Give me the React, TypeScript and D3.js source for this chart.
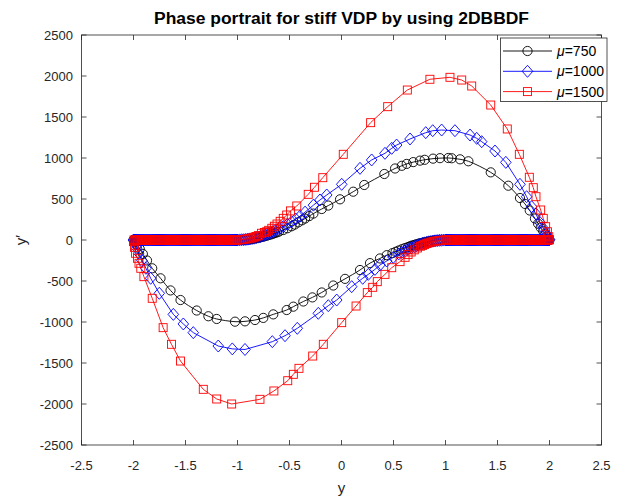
import React from 'react';
import * as d3 from 'd3';

const xTicks = [-2.5, -2, -1.5, -1, -0.5, 0, 0.5, 1, 1.5, 2, 2.5];
const yTicks = [-2500, -2000, -1500, -1000, -500, 0, 500, 1000, 1500, 2000, 2500];

// slow-manifold markers (y' ~ 0), very dense in the reference
const bandRightX = [1.995, 1.985, 1.975, 1.965, 1.955, 1.945, 1.935, 1.925, 1.915, 1.905, 1.895, 1.885, 1.875, 1.865, 1.855, 1.845, 1.835, 1.825, 1.815, 1.805, 1.795, 1.785, 1.775, 1.765, 1.755, 1.745, 1.735, 1.725, 1.715, 1.705, 1.695, 1.685, 1.675, 1.665, 1.655, 1.645, 1.635, 1.625, 1.615, 1.605, 1.595, 1.585, 1.575, 1.565, 1.555, 1.545, 1.535, 1.525, 1.515, 1.505, 1.495, 1.485, 1.475, 1.465, 1.455, 1.445, 1.435, 1.425, 1.415, 1.405, 1.395, 1.385, 1.375, 1.365, 1.355, 1.345, 1.335, 1.325, 1.315, 1.305, 1.295, 1.285, 1.275, 1.265, 1.255, 1.245, 1.235, 1.225, 1.215, 1.205, 1.195, 1.185, 1.175, 1.165, 1.155, 1.145, 1.135, 1.125, 1.115, 1.105, 1.095, 1.085, 1.075, 1.065, 1.055, 1.045, 1.035, 1.025, 1.015, 1.005];
const bandLeftX = [-1.995, -1.985, -1.975, -1.965, -1.955, -1.945, -1.935, -1.925, -1.915, -1.905, -1.895, -1.885, -1.875, -1.865, -1.855, -1.845, -1.835, -1.825, -1.815, -1.805, -1.795, -1.785, -1.775, -1.765, -1.755, -1.745, -1.735, -1.725, -1.715, -1.705, -1.695, -1.685, -1.675, -1.665, -1.655, -1.645, -1.635, -1.625, -1.615, -1.605, -1.595, -1.585, -1.575, -1.565, -1.555, -1.545, -1.535, -1.525, -1.515, -1.505, -1.495, -1.485, -1.475, -1.465, -1.455, -1.445, -1.435, -1.425, -1.415, -1.405, -1.395, -1.385, -1.375, -1.365, -1.355, -1.345, -1.335, -1.325, -1.315, -1.305, -1.295, -1.285, -1.275, -1.265, -1.255, -1.245, -1.235, -1.225, -1.215, -1.205, -1.195, -1.185, -1.175, -1.165, -1.155, -1.145, -1.135, -1.125, -1.115, -1.105, -1.095, -1.085, -1.075, -1.065, -1.055, -1.045, -1.035, -1.025, -1.015, -1.005];

// mu = 750
const upper750: [number, number][] = [[-1.0, 0], [-0.98, 0.5], [-0.96, 2], [-0.94, 3], [-0.92, 5], [-0.9, 7], [-0.88, 10], [-0.86, 13], [-0.84, 17], [-0.82, 22], [-0.8, 27], [-0.78, 32], [-0.76, 38], [-0.74, 45], [-0.72, 52], [-0.7, 60], [-0.68, 67], [-0.66, 76], [-0.64, 84], [-0.62, 94], [-0.6, 103], [-0.56, 122], [-0.52, 143], [-0.48, 167], [-0.45, 188], [-0.415, 215], [-0.38, 240], [-0.35, 262], [-0.31, 292], [-0.27, 322], [-0.19, 378], [-0.127, 420], [-0.014, 496], [0.113, 589], [0.219, 671], [0.412, 805], [0.515, 872], [0.58, 905], [0.627, 928], [0.69, 950], [0.755, 968], [0.8, 978], [0.88, 992], [0.947, 998], [1.027, 1000], [1.06, 997], [1.14, 984], [1.22, 960], [1.435, 825], [1.604, 662], [1.716, 512], [1.764, 440], [1.81, 360], [1.86, 262], [1.89, 200], [1.915, 152], [1.94, 108], [1.96, 70], [1.975, 42], [1.99, 16], [2.0, 2]];
const lower750: [number, number][] = [[1.0, 0], [0.98, -0.5], [0.96, -2], [0.94, -3], [0.92, -5], [0.9, -7], [0.88, -10], [0.86, -13], [0.84, -17], [0.82, -22], [0.8, -27], [0.78, -32], [0.76, -38], [0.74, -45], [0.72, -52], [0.7, -60], [0.68, -67], [0.66, -76], [0.64, -85], [0.61, -98], [0.58, -112], [0.55, -128], [0.52, -144], [0.49, -160], [0.435, -185], [0.37, -225], [0.274, -282], [0.178, -366], [0.034, -474], [-0.079, -555], [-0.19, -640], [-0.28, -700], [-0.367, -750], [-0.463, -813], [-0.527, -854], [-0.656, -907], [-0.752, -950], [-0.832, -976], [-0.928, -992], [-1.024, -996], [-1.2, -963], [-1.28, -930], [-1.392, -860], [-1.548, -732], [-1.644, -615], [-1.74, -467], [-1.82, -345], [-1.87, -250], [-1.91, -170], [-1.94, -110], [-1.965, -60], [-1.985, -25], [-2.0, 0]];

// mu = 1000
const upper1000: [number, number][] = [[-1.0, 0], [-0.98, 1], [-0.96, 3], [-0.94, 4], [-0.92, 7], [-0.9, 10], [-0.88, 13], [-0.86, 18], [-0.84, 22], [-0.82, 29], [-0.8, 35], [-0.78, 43], [-0.76, 51], [-0.74, 60], [-0.72, 70], [-0.7, 80], [-0.68, 90], [-0.66, 101], [-0.64, 113], [-0.6, 138], [-0.56, 163], [-0.52, 190], [-0.48, 222], [-0.44, 255], [-0.4, 290], [-0.35, 340], [-0.27, 425], [-0.207, 488], [-0.142, 549], [0.002, 679], [0.178, 874], [0.29, 976], [0.418, 1057], [0.483, 1118], [0.53, 1158], [0.659, 1232], [0.81, 1309], [0.877, 1333], [0.963, 1341], [1.091, 1333], [1.236, 1280], [1.3, 1240], [1.348, 1199], [1.476, 1085], [1.58, 947], [1.716, 679], [1.78, 528], [1.828, 406], [1.87, 317], [1.909, 211], [1.94, 143], [1.966, 82], [1.985, 40], [2.0, 5]];
const lower1000: [number, number][] = [[1.0, 0], [0.98, -1], [0.96, -3], [0.94, -4], [0.92, -7], [0.9, -10], [0.88, -13], [0.86, -18], [0.84, -22], [0.82, -29], [0.8, -35], [0.78, -43], [0.76, -51], [0.74, -60], [0.72, -70], [0.7, -80], [0.67, -96], [0.64, -113], [0.61, -131], [0.58, -150], [0.55, -170], [0.498, -211], [0.435, -256], [0.37, -305], [0.322, -358], [0.258, -419], [0.204, -467], [0.098, -569], [-0.046, -732], [-0.127, -801], [-0.223, -894], [-0.425, -1077], [-0.543, -1167], [-0.665, -1240], [-0.928, -1335], [-1.05, -1328], [-1.185, -1293], [-1.425, -1130], [-1.521, -1024], [-1.617, -907], [-1.752, -650], [-1.835, -467], [-1.88, -345], [-1.92, -250], [-1.95, -160], [-1.97, -100], [-1.985, -50], [-2.0, 0]];

// mu = 1500
const upper1500: [number, number][] = [[-1.0, 0], [-0.98, 1], [-0.96, 4], [-0.94, 6], [-0.92, 11], [-0.9, 15], [-0.88, 20], [-0.86, 26], [-0.84, 33], [-0.82, 43], [-0.8, 54], [-0.77, 82], [-0.74, 92], [-0.72, 101], [-0.7, 118], [-0.67, 143], [-0.645, 168], [-0.62, 195], [-0.59, 228], [-0.56, 264], [-0.527, 305], [-0.49, 355], [-0.43, 415], [-0.32, 557], [-0.26, 643], [-0.18, 760], [0.017, 1045], [0.28, 1431], [0.444, 1626], [0.633, 1829], [0.85, 1960], [1.043, 1984], [1.156, 1951], [1.252, 1878], [1.435, 1646], [1.594, 1354], [1.71, 1045], [1.806, 765], [1.844, 638], [1.87, 528], [1.915, 366], [1.94, 264], [1.963, 162], [1.98, 101], [1.993, 40], [2.0, 5]];
const lower1500: [number, number][] = [[1.0, 0], [0.98, -1], [0.96, -4], [0.94, -6], [0.92, -11], [0.9, -15], [0.88, -20], [0.86, -26], [0.84, -34], [0.82, -43], [0.8, -55], [0.78, -66], [0.76, -76], [0.73, -97], [0.7, -120], [0.67, -146], [0.64, -178], [0.611, -211], [0.563, -264], [0.483, -338], [0.418, -419], [0.344, -508], [0.3, -577], [0.248, -642], [0.14, -805], [0.002, -1008], [-0.175, -1272], [-0.277, -1415], [-0.409, -1565], [-0.463, -1638], [-0.517, -1716], [-0.65, -1841], [-0.784, -1943], [-1.056, -2000], [-1.2, -1939], [-1.329, -1821], [-1.548, -1476], [-1.635, -1272], [-1.715, -1069], [-1.82, -711], [-1.9, -447], [-1.93, -345], [-1.947, -284], [-1.962, -223], [-1.98, -162], [-1.99, -90], [-2.0, -20]];

const labels = ['750', '1000', '1500'];
const colors = ['#000000', '#0000ff', '#ff0000'];
const markers = ['circle', 'diamond', 'square'];

const W = 618, H = 498;
const L = 81.5, R = 601.5, T = 35, B = 445;
const FONT = 'Liberation Sans, Arial, Helvetica, sans-serif';
const AX = '#262626';

function Marker({ type, cx, cy, color }: { type: string; cx: number; cy: number; color: string }) {
  if (type === 'circle') return <circle cx={cx} cy={cy} r={4.6} fill="none" stroke={color} strokeWidth={0.9} />;
  if (type === 'diamond') return <path d={`M${cx},${cy - 6}L${cx + 5.3},${cy}L${cx},${cy + 6}L${cx - 5.3},${cy}Z`} fill="none" stroke={color} strokeWidth={0.9} />;
  return <rect x={cx - 4} y={cy - 4} width={8} height={8} fill="none" stroke={color} strokeWidth={0.9} />;
}

export default function App() {
  const x = d3.scaleLinear().domain([-2.5, 2.5]).range([L, R]);
  const y = d3.scaleLinear().domain([-2500, 2500]).range([B, T]);
  const line = d3.line<[number, number]>().x(d => x(d[0])).y(d => y(d[1]));
  const smooth = d3.line<[number, number]>().x(d => x(d[0])).y(d => y(d[1])).curve(d3.curveCatmullRom.alpha(0.5));

  const build = (up: [number, number][], lo: [number, number][]) => {
    const pts: [number, number][] = [];
    up.forEach(p => pts.push(p));
    bandRightX.forEach(v => pts.push([v, 0]));
    lo.forEach(p => pts.push(p));
    bandLeftX.forEach(v => pts.push([v, 0]));
    return pts;
  };
  const data = [build(upper750, lower750), build(upper1000, lower1000), build(upper1500, lower1500)];

  return (
    <svg width={W} height={H} style={{ position: 'absolute', left: 0, top: 0, background: '#fff' }} fontFamily={FONT}>
      <rect x={0} y={0} width={W} height={H} fill="#fff" />
      <text x={(L + R) / 2} y={24} textAnchor="middle" fontSize={16} fontWeight="bold" fill="#000" textLength={375} lengthAdjust="spacingAndGlyphs">Phase portrait for stiff VDP by using 2DBBDF</text>
      {/* axis box & ticks */}
      <rect x={L} y={T} width={R - L} height={B - T} fill="none" stroke={AX} strokeWidth={0.8} />
      {xTicks.map(t => (
        <g key={'x' + t}>
          <line x1={x(t)} x2={x(t)} y1={B} y2={B - 5} stroke={AX} strokeWidth={0.8} />
          <line x1={x(t)} x2={x(t)} y1={T} y2={T + 5} stroke={AX} strokeWidth={0.8} />
          <text x={x(t)} y={470} textAnchor="middle" fontSize={13} fill={AX}>{String(t)}</text>
        </g>
      ))}
      {yTicks.map(t => (
        <g key={'y' + t}>
          <line x1={L} x2={L + 5} y1={y(t)} y2={y(t)} stroke={AX} strokeWidth={0.8} />
          <line x1={R} x2={R - 5} y1={y(t)} y2={y(t)} stroke={AX} strokeWidth={0.8} />
          <text x={73} y={y(t) + 4.5} textAnchor="end" fontSize={13} fill={AX}>{String(t)}</text>
        </g>
      ))}
      <text x={(L + R) / 2} y={493} textAnchor="middle" fontSize={15} fill={AX}>y</text>
      <text transform={`translate(26,${(T + B) / 2}) rotate(-90)`} textAnchor="middle" fontSize={15} fill={AX}>y′</text>
      {/* series */}
      {data.map((pts, i) => (
        <g key={'s' + i}>
          <path d={(i === 0 ? smooth : line)(pts) || ''} fill="none" stroke={colors[i]} strokeWidth={0.9} />
          {pts.map((p, j) => (
            <Marker key={j} type={markers[i]} cx={x(p[0])} cy={y(p[1])} color={colors[i]} />
          ))}
        </g>
      ))}
      {/* legend */}
      <rect x={500.5} y={38} width={106.5} height={63.5} fill="#fff" stroke={AX} strokeWidth={0.8} />
      {labels.map((lab, i) => {
        const cy = 51 + i * 20.3;
        return (
          <g key={'l' + i}>
            <line x1={503} x2={552} y1={cy} y2={cy} stroke={colors[i]} strokeWidth={0.9} />
            <Marker type={markers[i]} cx={527.5} cy={cy} color={colors[i]} />
            <text x={557} y={cy + 5} fontSize={14} fill="#000"><tspan fontStyle="italic">μ</tspan>={lab}</text>
          </g>
        );
      })}
    </svg>
  );
}
